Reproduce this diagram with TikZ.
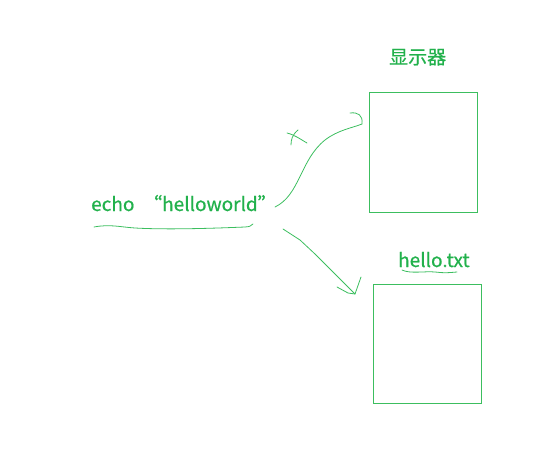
\documentclass[tikz,border=0pt]{standalone}
\usepackage{fontspec}
\setmainfont{Noto Sans CJK SC}[FakeBold=0.6]
\definecolor{pgreen}{RGB}{34,177,76}
\definecolor{lgreen}{RGB}{60,190,95}
\begin{document}
\begin{tikzpicture}[x=1pt,y=-1pt,
  lbl/.style={text=pgreen,inner sep=0pt,font=\fontsize{19}{22}\selectfont,anchor=base west},
  boxr/.style={draw=lgreen,line width=0.8pt},
  pen/.style={draw=lgreen,line width=0.8pt,line cap=round,line join=round}]
\useasboundingbox (0,0) rectangle (537,468);
% boxes
\node[boxr,minimum width=108pt,minimum height=120pt,anchor=north west] (screen) at (369,92) {};
\node[boxr,minimum width=108pt,minimum height=119pt,anchor=north west] (file) at (373,284) {};
% labels
\node[lbl] (lscreen) at (389,64) {显示器};
\node[lbl] (echo) at (91,211) {echo};
\node[lbl] (hw) at (143,211) {“helloworld”};
\node[lbl] (lfile) at (398,267) {hello.txt};
% underline under command
\coordinate (u0) at (94,227);
\coordinate (u1) at (253,224);
\draw[pen] (u0) .. controls (110,224) and (120,227) .. (135,228)
  .. controls (170,230) and (220,228) .. (245,227) .. controls (250,226.5) .. (u1);
% underline under hello.txt
\coordinate (h0) at (402,270);
\coordinate (h1) at (457,272);
\draw[pen] (h0) .. controls (410,274) and (425,271) .. (435,272) .. controls (445,273) .. (h1);
% curved arrow to screen
\coordinate (a0) at (275,207);
\coordinate (a1) at (362,124);
\draw[pen] (a0) .. controls (300,195) and (300,160) .. (325,140)
  .. controls (338,130) and (352,128) .. (a1);
\draw[pen] (350,113) .. controls (358,112) and (363,115) .. (362,124);
% cross mark
\draw[pen] (287,133) .. controls (295,135) and (300,139) .. (307,143);
\draw[pen] (298,130) .. controls (292,135) and (291,140) .. (291,145);
% straight arrow to file
\coordinate (b0) at (283,229);
\coordinate (b1) at (355,294);
\draw[pen] (b0) -- (300,240) -- (315,254) -- (335,274) -- (b1);
\draw[pen] (337,287) -- (348,293) -- (b1) -- (361,277);
\end{tikzpicture}
\end{document}
